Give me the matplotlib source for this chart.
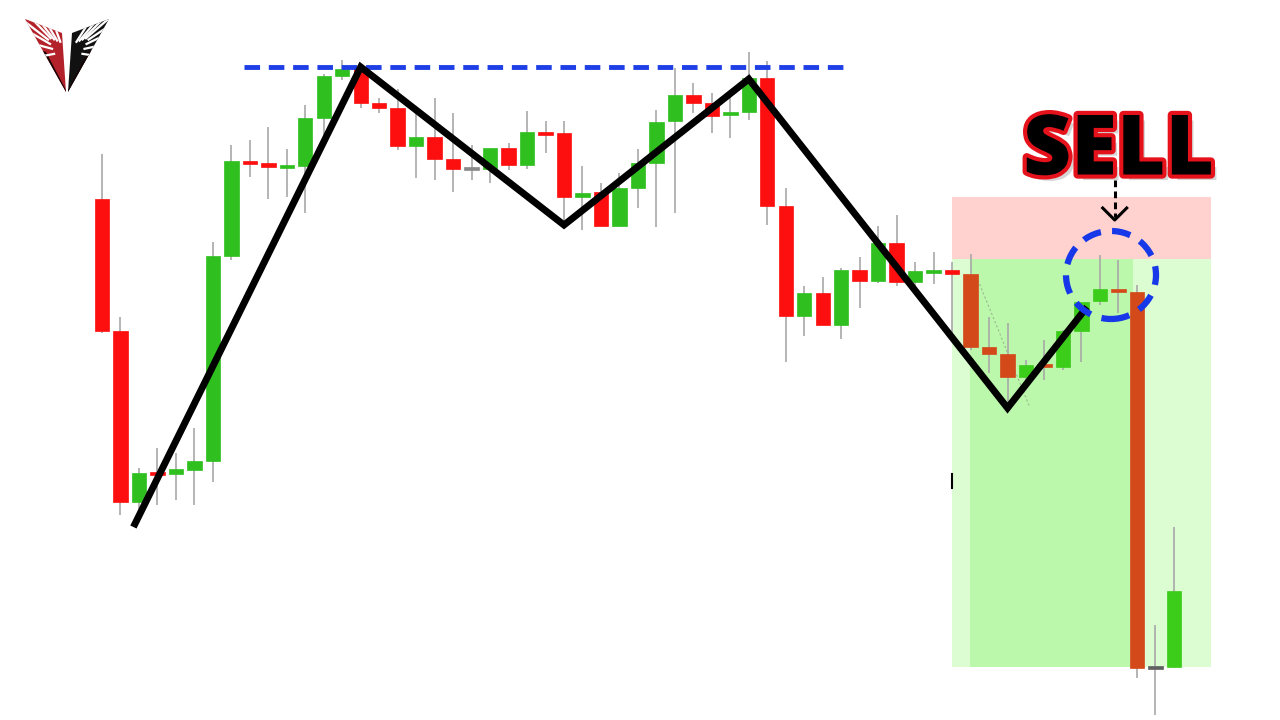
import numpy as np
import matplotlib
matplotlib.use("Agg")
import matplotlib.pyplot as plt
from matplotlib.patches import Rectangle, Ellipse, Polygon
import matplotlib.patheffects as pe

# ---------------- data (price units, higher = up) ----------------
opens  = [521, 389, 218, 248, 246, 250, 259, 464, 559, 557, 553, 554, 602, 644, 652, 617, 612, 574, 583, 561,
          551, 551, 572, 555, 588, 587, 523, 528, 494, 532, 557, 599, 625, 617, 605, 608, 642, 514, 404, 427,
          395, 450, 439, 477, 438, 448, 450, 446, 373, 366, 343, 356, 353, 389, 419, 431, 428, 53, 53]
highs  = [566, 403, 252, 272, 267, 292, 478, 575, 580, 593, 571, 615, 646, 660, 654, 622, 631, 613, 622, 607,
          575, 560, 577, 609, 599, 599, 554, 537, 547, 571, 610, 652, 637, 627, 625, 668, 659, 532, 434, 443,
          452, 463, 494, 505, 458, 468, 458, 466, 403, 397, 360, 380, 390, 415, 465, 460, 435, 95, 193]
lows   = [387, 205, 210, 215, 220, 215, 238, 460, 543, 521, 523, 507, 580, 640, 612, 607, 570, 542, 540, 528,
          540, 537, 550, 551, 567, 497, 490, 494, 494, 512, 493, 507, 607, 587, 582, 600, 495, 358, 384, 395,
          381, 412, 437, 434, 430, 436, 387, 370, 347, 312, 340, 340, 350, 358, 415, 407, 42, 5, 52]
closes = [389, 218, 247, 246, 251, 259, 464, 559, 557, 553, 555, 602, 644, 651, 617, 612, 574, 583, 561, 551,
          552, 572, 555, 588, 586, 523, 527, 494, 532, 557, 598, 625, 617, 604, 608, 642, 514, 404, 427, 395,
          450, 439, 477, 438, 449, 450, 446, 373, 366, 343, 355, 354, 389, 418, 431, 429, 52, 52, 129]

# pattern annotation (candle index, price)
zig_x = [1.7, 14.0, 25.0, 35.0, 49.0, 53.3]
zig_y = [193, 653, 495, 641, 312, 413]
resistance_y = 653
resistance_x = [7.7, 40.5]
stop_zone = [461, 523]      # red zone price range
target_zone = [53, 461]     # green zone price range
zone_x = [46.0, 60.0]
entry_index = 54.6
entry_price = 445

# ---------------- style ----------------
RED = "#fd0f0f"
GREEN = "#2fbf1f"
ORANGE = "#d4491a"
ZGREEN = "#3ccc1a"
WICK = "#a8a8a8"

fig = plt.figure(figsize=(12.8, 7.2), dpi=100)
ax = fig.add_axes([0, 0, 1, 1])
x0, step = 102.0, 18.48
ax.set_xlim(-x0 / step, (1280 - x0) / step)
ax.set_ylim(0, 720)
ax.axis("off")

# zones
ax.add_patch(Rectangle((zone_x[0], stop_zone[0]), zone_x[1] - zone_x[0], stop_zone[1] - stop_zone[0],
                       facecolor="#ffd2cf", edgecolor="none", zorder=0))
ax.add_patch(Rectangle((zone_x[0], target_zone[0]), zone_x[1] - zone_x[0], target_zone[1] - target_zone[0],
                       facecolor="#dcfcd2", edgecolor="none", zorder=0))
ax.add_patch(Rectangle((46.95, target_zone[0]), 55.8 - 46.95, target_zone[1] - target_zone[0],
                       facecolor="#bcf8ab", edgecolor="none", zorder=0))

# dotted helper line inside zone
ax.plot([47.4, 50.2], [440, 313], color="#9ab890", lw=0.8, ls=(0, (2, 2)), zorder=1)
ax.plot([46.0, 46.0], [232, 246], color="black", lw=1.5, zorder=1)

# candles
w = 0.78
for i, (o, h, l, c) in enumerate(zip(opens, highs, lows, closes)):
    in_zone = i >= 47
    up = c >= o
    if up:
        col = ZGREEN if in_zone else GREEN
    else:
        col = ORANGE if in_zone else RED
    if abs(c - o) < 1.5 and i in (20, 57):
        col = "#8a8a8a" if i == 20 else "#606060"
    ax.plot([i, i], [l, h], color=WICK, lw=1.2, zorder=2, solid_capstyle="butt")
    bottom = min(o, c)
    height = max(abs(c - o), 3)
    if abs(c - o) < 3:
        bottom = (o + c) / 2 - 1.5
    ax.add_patch(Rectangle((i - w / 2, bottom), w, height, facecolor=col, edgecolor=col, lw=0.5, zorder=3))

# resistance line
ax.plot(resistance_x, [resistance_y] * 2, color="#1f3fe6", lw=3.5, ls=(0, (3.2, 1.8)), zorder=4)

# zigzag
ax.plot(zig_x, zig_y, color="black", lw=5, solid_joinstyle="miter", solid_capstyle="butt", zorder=5)

# dashed circle around entry
ax.add_patch(Ellipse((entry_index, entry_price), 2 * 45 / step, 88, fill=False, edgecolor="#1638e8",
                     lw=4.5, ls=(0, (3.0, 1.8)), zorder=6))

# SELL label and arrow
ax.plot([54.8, 54.8], [540, 503], color="black", lw=2.2, ls=(0, (2.2, 1.4)), zorder=6)
ax.plot([54.15, 54.8, 55.45], [512, 500, 512], color="black", lw=2.2, zorder=6)
ax.text(55.0, 567, "SELL", fontsize=60, fontweight="heavy", family=["Open Sans", "DejaVu Sans"],
        color="black", ha="center", va="center", zorder=7,
        path_effects=[pe.withSimplePatchShadow(offset=(4, -4), shadow_rgbFace="#888888", alpha=0.35),
                      pe.Stroke(linewidth=6, foreground="#e5121b"), pe.Normal()])

# logo (pixel coords overlay)
lax = fig.add_axes([0, 0, 1, 1])
lax.set_xlim(0, 1280)
lax.set_ylim(720, 0)
lax.axis("off")


def logo_half(tri, fill, dark, origin, outer_pts):
    patch = Polygon(tri, closed=True, facecolor=fill, edgecolor="none")
    lax.add_patch(patch)
    d = Polygon(dark, closed=True, facecolor="#160404", edgecolor="none")
    lax.add_patch(d)
    d.set_clip_path(patch)
    o = np.array(origin, float)
    for q in outer_pts:
        q = np.array(q, float)
        a = o + 0.42 * (q - o)
        b = q + 0.3 * (q - o)
        ln, = lax.plot([a[0], b[0]], [a[1], b[1]], color="white", lw=1.6, solid_capstyle="butt")
        ln.set_clip_path(patch)


left_outer = [(56, 30), (49, 27), (42, 24), (34, 21), (28, 24), (33, 34), (38, 45), (43, 56)]
logo_half([(25, 19), (62, 33), (66, 92)], "#b3222a",
          [(40, 50), (46, 52), (67, 92), (62, 92)], (64, 52), left_outer)
right_outer = [(140 - x, y) for x, y in left_outer]
logo_half([(109, 19), (72, 33), (68, 92)], "#111111",
          [(94, 50), (88, 52), (67, 92), (72, 92)], (70, 52), right_outer)

fig.savefig("out.png", dpi=100)
